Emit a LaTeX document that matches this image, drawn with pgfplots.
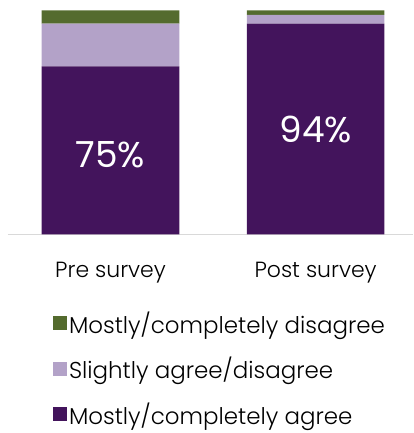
\documentclass[border=0pt]{standalone}
\usepackage{fontspec}
\setmainfont{Poppins}[UprightFont=* Light]
\newfontfamily\pctfont{Poppins}
\usepackage{pgfplots}
\pgfplotsset{compat=1.18}
\definecolor{cAgree}{HTML}{43145C}
\definecolor{cSlight}{HTML}{B3A2C8}
\definecolor{cDis}{HTML}{546B2E}
\definecolor{cAxis}{HTML}{D9D9D9}
\begin{document}
\begin{tikzpicture}
\begin{axis}[
  /pgf/number format/assume math mode=true,
  scale only axis,
  width=406pt, height=224.7pt,
  ybar stacked, bar width=138pt,
  xmin=-0.5, xmax=1.475, ymin=0, ymax=100,
  xtick=data, xticklabels={Pre survey, Post survey},
  xticklabel style={font=\fontsize{22}{26}\selectfont, yshift=-24pt},
  major tick length=0pt,
  ytick=\empty,
  axis x line*=bottom, axis y line=none,
  x axis line style={draw=cAxis, line width=1pt, -},
  clip=false,
  legend reversed,
  legend style={at={(45pt,-75pt)}, anchor=north west, draw=none, fill=none,
    font=\fontsize{23}{27}\selectfont, row sep=18.5pt, cells={anchor=west},
    inner sep=0pt},
  legend image code/.code={\fill[#1] (0pt,-7pt) rectangle (14pt,7pt);},
]
\addplot[fill=cAgree, draw=none] coordinates {(0,75) (1,94)};
\addplot[fill=cSlight, draw=none] coordinates {(0,19) (1,4)};
\addplot[fill=cDis, draw=none] coordinates {(0,6) (1,2)};
\legend{Mostly/completely agree, Slightly agree/disagree, Mostly/completely disagree}
\coordinate (pa) at (axis cs:0,35.6);
\coordinate (pb) at (axis cs:1,46.7);
\end{axis}
\node[text=white, font=\pctfont\fontsize{36}{42}\selectfont] at (pa) {75\%};
\node[text=white, font=\pctfont\fontsize{36}{42}\selectfont] at (pb) {94\%};
\pgfresetboundingbox
\path (-8pt,-199pt) rectangle (406pt,235pt);
\end{tikzpicture}
\end{document}
